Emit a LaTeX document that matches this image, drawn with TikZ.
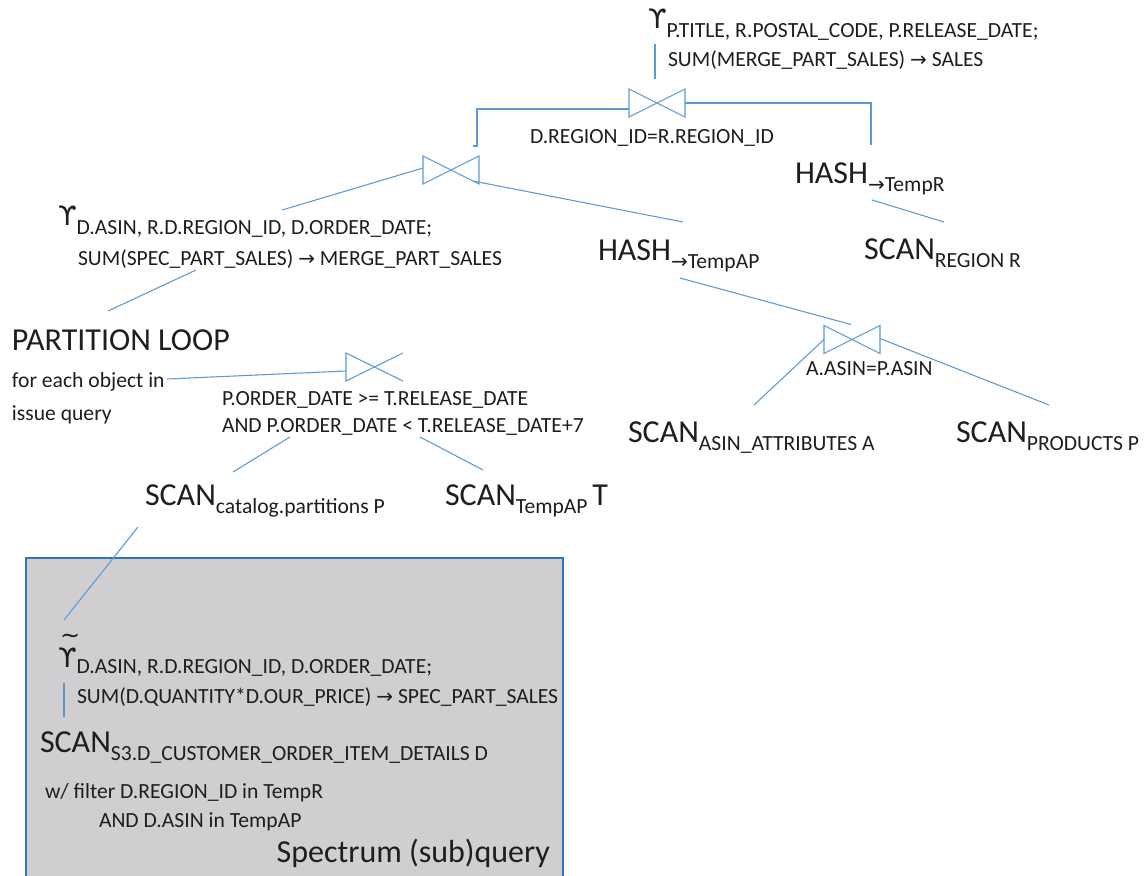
\documentclass[tikz,border=0pt]{standalone}
\usepackage{fontspec}
\setmainfont{Carlito}
\newfontfamily\dejavu{DejaVu Sans}
\usetikzlibrary{calc}
\definecolor{xline}{RGB}{91,155,213}
\definecolor{xframe}{RGB}{46,117,182}
\definecolor{xgrey}{RGB}{208,206,208}
\definecolor{xtext}{RGB}{30,30,30}

\newcommand{\opfont}{\fontsize{24}{28}\selectfont}
\newcommand{\subfont}{\fontsize{16.2}{19}\selectfont}
\newcommand{\ups}{{\dejavu\fontsize{20}{24}\selectfont ϒ}}
\newcommand{\tups}{{\dejavu\fontsize{20}{24}\selectfont\makebox[0pt][l]{\hspace{1.5pt}\raisebox{17.5pt}{\fontsize{18}{20}\selectfont\~{}}}ϒ}}
\newcommand{\rarr}{{\dejavu\fontsize{15}{18}\selectfont →}}
\newcommand{\opsub}[2]{{\opfont #1}\raisebox{-6pt}{\subfont #2}}
\newcommand{\drawjoin}[1]{\draw[link] (#1.north west) -- (#1.south west) -- (#1.north east) -- (#1.south east) -- cycle;}

\begin{document}
\begin{tikzpicture}[
  x=0.75pt, y=-0.75pt,
  txt/.style={anchor=base west, inner sep=0pt, outer sep=0pt, text=xtext, font=\subfont},
  joinbox/.style={minimum width=42pt, minimum height=21pt, inner sep=0pt, outer sep=0pt},
  link/.style={draw=xline, line width=0.8pt},
  spectrum/.style={fill=xgrey, draw=xframe, line width=1.5pt}
]
  \useasboundingbox (0,0) rectangle (1144,875);
  \fill[white] (0,0) rectangle (1144,875);

  % Spectrum part
  \draw[spectrum] (26,558) rectangle (563,890);

  % top aggregation and join
  \node[txt] (g1) at (648,28) {\ups\raisebox{-7pt}{\subfont P.TITLE, R.POSTAL\_CODE, P.RELEASE\_DATE;}};
  \node[txt] (g1sum) at (668,66) {SUM(MERGE\_PART\_SALES) \rarr\ SALES};
  \node[joinbox] (j1) at (657,103) {};
  \node[txt] (c1) at (530,143) {D.REGION\_ID=R.REGION\_ID};
  \node[txt] (hashR) at (795,183) {\opsub{HASH}{\rarr TempR}};
  \node[txt] (scanR) at (864,259) {\opsub{SCAN}{REGION R}};

  % middle join
  \node[joinbox] (j2) at (451,170) {};
  \node[txt] (g2) at (58,225) {\ups\raisebox{-7pt}{\subfont D.ASIN, R.D.REGION\_ID, D.ORDER\_DATE;}};
  \node[txt] (g2sum) at (78,265) {SUM(SPEC\_PART\_SALES) \rarr\ MERGE\_PART\_SALES};
  \node[txt] (hashAP) at (598,260) {\opsub{HASH}{\rarr TempAP}};

  % partition loop
  \node[txt, font=\opfont] (loop) at (12,350) {PARTITION LOOP};
  \node[txt] (each) at (12,387) {for each object in};
  \node[txt] (issue) at (12,420) {issue query};
  \node[joinbox, minimum width=42.75pt, minimum height=21pt] (j3) at (374.5,367) {};
  \node[txt] (c3a) at (222,405) {P.ORDER\_DATE >= T.RELEASE\_DATE};
  \node[txt] (c3b) at (222,432) {AND P.ORDER\_DATE < T.RELEASE\_DATE+7};
  \node[txt] (scanP) at (145,505) {\opsub{SCAN}{catalog.partitions P}};
  \node[txt] (scanT) at (445,505) {\opsub{SCAN}{TempAP} {\opfont T}};

  % asin join
  \node[joinbox] (j4) at (852,339.5) {};
  \node[txt] (c4) at (806,375) {A.ASIN=P.ASIN};
  \node[txt] (scanA) at (628,442) {\opsub{SCAN}{ASIN\_ATTRIBUTES A}};
  \node[txt] (scanPr) at (956,442) {\opsub{SCAN}{PRODUCTS P}};

  % inside spectrum
  \node[txt] (g3) at (58,667) {\tups\raisebox{-5pt}{\subfont D.ASIN, R.D.REGION\_ID, D.ORDER\_DATE;}};
  \node[txt] (g3sum) at (77,703) {SUM(D.QUANTITY*D.OUR\_PRICE) \rarr\ SPEC\_PART\_SALES};
  \node[txt] (scanD) at (40,752) {\opsub{SCAN}{S3.D\_CUSTOMER\_ORDER\_ITEM\_DETAILS D}};
  \node[txt] (filt1) at (45,798) {w/ filter D.REGION\_ID in TempR};
  \node[txt] (filt2) at (99,827) {AND D.ASIN in TempAP};
  \node[txt, anchor=base east, font=\opfont] (spec) at (550,862) {Spectrum (sub)query};

  % join symbols
  \drawjoin{j1}
  \drawjoin{j2}
  \drawjoin{j4}
  \draw[link] (j3.south east) -- (j3.north west) -- (j3.south west) -- (j3.north east);

  % connector ends
  \coordinate (g1a) at (655,44);
  \coordinate (g1b) at (655,79);
  \coordinate (e1) at (473,146);
  \coordinate (e2) at (871,145);
  \coordinate (g2top) at (282,210);
  \coordinate (g2bot) at (196,270);
  \coordinate (looptop) at (108,311);
  \coordinate (eachend) at (167,379);
  \coordinate (c3l) at (290,437);
  \coordinate (c3r) at (420,437);
  \coordinate (scanPtop) at (233,472);
  \coordinate (scanTtop) at (483,470);
  \coordinate (scanPbot) at (138,527);
  \coordinate (g3top) at (64,620);
  \coordinate (g3a) at (64,683);
  \coordinate (g3b) at (64,717);
  \coordinate (hRbot) at (872,200);
  \coordinate (sRtop) at (944,222);
  \coordinate (hAPtop) at (683,222);
  \coordinate (hAPbot) at (680,278);
  \coordinate (sAtop) at (754,405);
  \coordinate (sPrtop) at (1049,405);

  % connectors
  \draw[link] (g1a) -- (g1b);
  \draw[link] ($(j1.west)+(0,6)$) -| ($(e1)+(4,0)$) -- (e1);
  \draw[link] (j1.east) -| (e2);
  \draw[link] (hRbot) -- (sRtop);
  \draw[link] (g2top) -- ($(j2.west)+(0,-2)$);
  \draw[link] ($(j2.south east)+(-6,-3)$) -- (hAPtop);
  \draw[link] (g2bot) -- (looptop);
  \draw[link] (eachend) -- ($(j3.west)+(0,4)$);
  \draw[link] (c3l) -- (scanPtop);
  \draw[link] (c3r) -- (scanTtop);
  \draw[link] (scanPbot) -- (g3top);
  \draw[link] (g3a) -- (g3b);
  \draw[link] (hAPbot) -- ($(j4.north)+(-1,-1)$);
  \draw[link] (j4.west) -- (sAtop);
  \draw[link] ($(j4.east)+(0,-1)$) -- (sPrtop);
\end{tikzpicture}
\end{document}
